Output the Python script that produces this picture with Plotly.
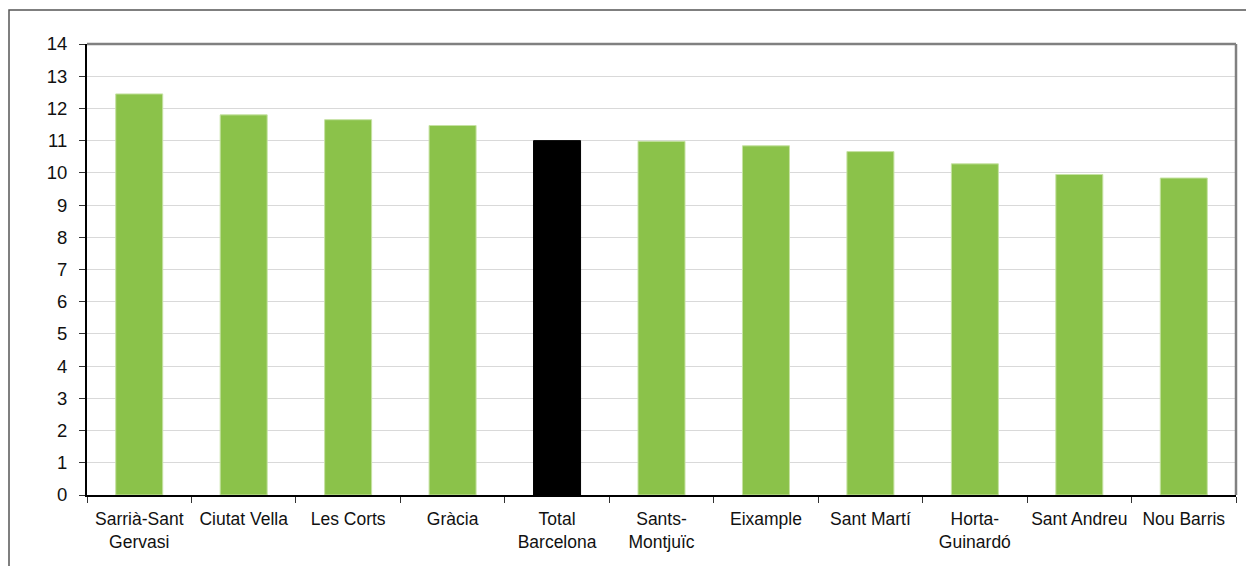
import plotly.graph_objects as go

# Districts of Barcelona, ordered from highest to lowest
districts = [
    "Sarrià-Sant<br>Gervasi", "Ciutat Vella", "Les Corts", "Gràcia",
    "Total<br>Barcelona", "Sants-<br>Montjuïc", "Eixample", "Sant Martí",
    "Horta-<br>Guinardó", "Sant Andreu", "Nou Barris",
]
values = [12.45, 11.80, 11.65, 11.47, 11.0, 10.98, 10.84, 10.66, 10.28, 9.95, 9.84]
y_ticks = list(range(0, 15))

GREEN = "#8BC24A"
GREEN_EDGE = "#C6E2A3"
bar_colors = ["#000000" if "Total" in d else GREEN for d in districts]
edge_colors = ["#000000" if "Total" in d else GREEN_EDGE for d in districts]

FONT = "Liberation Sans, Arial, sans-serif"

fig = go.Figure(
    go.Bar(
        x=districts,
        y=values,
        marker=dict(color=bar_colors, line=dict(color=edge_colors, width=1)),
        width=0.45,
    )
)

W, H = 1246, 566
L, R, T, B = 87, 10, 44, 71
pw, ph = W - L - R, H - T - B

fig.update_layout(
    width=W,
    height=H,
    margin=dict(l=L, r=R, t=T, b=B),
    paper_bgcolor="white",
    plot_bgcolor="white",
    showlegend=False,
    font=dict(family=FONT, size=18, color="#111111"),
    xaxis=dict(
        type="category",
        tickson="boundaries",
        ticks="outside",
        ticklen=6,
        tickcolor="#333333",
        tickangle=0,
        ticklabelstandoff=7,
        automargin=False,
        showline=True,
        linecolor="#000000",
        linewidth=2,
        showgrid=False,
        tickfont=dict(family=FONT, size=17.5, color="#111111"),
        fixedrange=True,
    ),
    yaxis=dict(
        range=[0, 14],
        tickvals=y_ticks,
        ticks="outside",
        ticklen=6,
        tickcolor="#333333",
        ticklabelstandoff=8,
        automargin=False,
        showline=True,
        linecolor="#000000",
        linewidth=2,
        showgrid=True,
        gridcolor="#D9D9D9",
        gridwidth=1,
        zeroline=False,
        tickfont=dict(family=FONT, size=18.5, color="#111111"),
        fixedrange=True,
    ),
    shapes=[
        # top and right border of the plot area
        dict(type="line", xref="paper", yref="paper", x0=0, x1=1, y0=1, y1=1,
             line=dict(color="#808080", width=2.5)),
        dict(type="line", xref="paper", yref="paper", x0=1, x1=1, y0=0, y1=1,
             line=dict(color="#808080", width=2.5)),
        # outer chart frame
        dict(type="rect", xref="paper", yref="paper",
             x0=(9 - L) / pw, x1=(W + 20 - L) / pw,
             y0=-(H + 20 - T - ph) / ph, y1=1 + (T - 10) / ph,
             line=dict(color="#555555", width=1.5), layer="below"),
    ],
)

fig.write_html("out.html")
